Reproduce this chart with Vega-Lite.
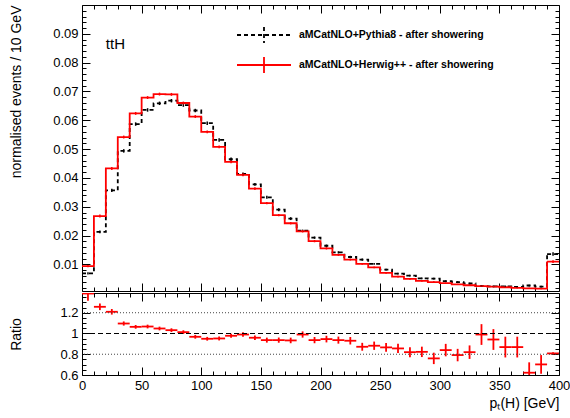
{
  "$schema": "https://vega.github.io/schema/vega-lite/v6.json",
  "background": "white",
  "padding": {"left": 8, "top": 4, "right": 2, "bottom": 4},
  "spacing": 0,
  "config": {
    "font": "Liberation Sans",
    "view": {"stroke": "black", "strokeWidth": 1},
    "axis": {
      "labelFont": "Liberation Sans", "labelFontSize": 13, "labelColor": "black", "labelFlush": false,
      "titleFont": "Liberation Sans", "titleFontSize": 14, "titleFontWeight": "normal", "titleColor": "black",
      "domain": false, "grid": false, "tickColor": "black", "tickWidth": 1
    }
  },
  "datasets": {
    "h": [
      {"s": "aMCatNLO+Pythia8 - after showering", "lo": 0, "hi": 10, "v": 0.0069, "e": 0.0004},
      {"s": "aMCatNLO+Pythia8 - after showering", "lo": 10, "hi": 20, "v": 0.0213, "e": 0.0005},
      {"s": "aMCatNLO+Pythia8 - after showering", "lo": 20, "hi": 30, "v": 0.0357, "e": 0.0006},
      {"s": "aMCatNLO+Pythia8 - after showering", "lo": 30, "hi": 40, "v": 0.0494, "e": 0.0006},
      {"s": "aMCatNLO+Pythia8 - after showering", "lo": 40, "hi": 50, "v": 0.0587, "e": 0.0006},
      {"s": "aMCatNLO+Pythia8 - after showering", "lo": 50, "hi": 60, "v": 0.0636, "e": 0.0006},
      {"s": "aMCatNLO+Pythia8 - after showering", "lo": 60, "hi": 70, "v": 0.0659, "e": 0.0006},
      {"s": "aMCatNLO+Pythia8 - after showering", "lo": 70, "hi": 80, "v": 0.0668, "e": 0.0006},
      {"s": "aMCatNLO+Pythia8 - after showering", "lo": 80, "hi": 90, "v": 0.0653, "e": 0.0006},
      {"s": "aMCatNLO+Pythia8 - after showering", "lo": 90, "hi": 100, "v": 0.0634, "e": 0.0006},
      {"s": "aMCatNLO+Pythia8 - after showering", "lo": 100, "hi": 110, "v": 0.0590, "e": 0.0006},
      {"s": "aMCatNLO+Pythia8 - after showering", "lo": 110, "hi": 120, "v": 0.0532, "e": 0.0006},
      {"s": "aMCatNLO+Pythia8 - after showering", "lo": 120, "hi": 130, "v": 0.0465, "e": 0.0006},
      {"s": "aMCatNLO+Pythia8 - after showering", "lo": 130, "hi": 140, "v": 0.0414, "e": 0.0005},
      {"s": "aMCatNLO+Pythia8 - after showering", "lo": 140, "hi": 150, "v": 0.0378, "e": 0.0005},
      {"s": "aMCatNLO+Pythia8 - after showering", "lo": 150, "hi": 160, "v": 0.0333, "e": 0.0005},
      {"s": "aMCatNLO+Pythia8 - after showering", "lo": 160, "hi": 170, "v": 0.0290, "e": 0.0005},
      {"s": "aMCatNLO+Pythia8 - after showering", "lo": 170, "hi": 180, "v": 0.0259, "e": 0.0005},
      {"s": "aMCatNLO+Pythia8 - after showering", "lo": 180, "hi": 190, "v": 0.0217, "e": 0.0004},
      {"s": "aMCatNLO+Pythia8 - after showering", "lo": 190, "hi": 200, "v": 0.0193, "e": 0.0004},
      {"s": "aMCatNLO+Pythia8 - after showering", "lo": 200, "hi": 210, "v": 0.0165, "e": 0.0004},
      {"s": "aMCatNLO+Pythia8 - after showering", "lo": 210, "hi": 220, "v": 0.0142, "e": 0.0004},
      {"s": "aMCatNLO+Pythia8 - after showering", "lo": 220, "hi": 230, "v": 0.0126, "e": 0.0004},
      {"s": "aMCatNLO+Pythia8 - after showering", "lo": 230, "hi": 240, "v": 0.0117, "e": 0.0004},
      {"s": "aMCatNLO+Pythia8 - after showering", "lo": 240, "hi": 250, "v": 0.0102, "e": 0.0003},
      {"s": "aMCatNLO+Pythia8 - after showering", "lo": 250, "hi": 260, "v": 0.0082, "e": 0.0003},
      {"s": "aMCatNLO+Pythia8 - after showering", "lo": 260, "hi": 270, "v": 0.0068, "e": 0.0003},
      {"s": "aMCatNLO+Pythia8 - after showering", "lo": 270, "hi": 280, "v": 0.0061, "e": 0.0003},
      {"s": "aMCatNLO+Pythia8 - after showering", "lo": 280, "hi": 290, "v": 0.0052, "e": 0.0003},
      {"s": "aMCatNLO+Pythia8 - after showering", "lo": 290, "hi": 300, "v": 0.0051, "e": 0.0003},
      {"s": "aMCatNLO+Pythia8 - after showering", "lo": 300, "hi": 310, "v": 0.0042, "e": 0.0003},
      {"s": "aMCatNLO+Pythia8 - after showering", "lo": 310, "hi": 320, "v": 0.0039, "e": 0.0003},
      {"s": "aMCatNLO+Pythia8 - after showering", "lo": 320, "hi": 330, "v": 0.0034, "e": 0.0003},
      {"s": "aMCatNLO+Pythia8 - after showering", "lo": 330, "hi": 340, "v": 0.0025, "e": 0.0003},
      {"s": "aMCatNLO+Pythia8 - after showering", "lo": 340, "hi": 350, "v": 0.0024, "e": 0.0003},
      {"s": "aMCatNLO+Pythia8 - after showering", "lo": 350, "hi": 360, "v": 0.0024, "e": 0.0003},
      {"s": "aMCatNLO+Pythia8 - after showering", "lo": 360, "hi": 370, "v": 0.0022, "e": 0.0003},
      {"s": "aMCatNLO+Pythia8 - after showering", "lo": 370, "hi": 380, "v": 0.0027, "e": 0.0003},
      {"s": "aMCatNLO+Pythia8 - after showering", "lo": 380, "hi": 390, "v": 0.0023, "e": 0.0003},
      {"s": "aMCatNLO+Pythia8 - after showering", "lo": 390, "hi": 400, "v": 0.0136, "e": 0.0006},
      {"s": "aMCatNLO+Herwig++ - after showering", "lo": 0, "hi": 10, "v": 0.0094, "e": 0.0004},
      {"s": "aMCatNLO+Herwig++ - after showering", "lo": 10, "hi": 20, "v": 0.0268, "e": 0.0005},
      {"s": "aMCatNLO+Herwig++ - after showering", "lo": 20, "hi": 30, "v": 0.0433, "e": 0.0005},
      {"s": "aMCatNLO+Herwig++ - after showering", "lo": 30, "hi": 40, "v": 0.0542, "e": 0.0005},
      {"s": "aMCatNLO+Herwig++ - after showering", "lo": 40, "hi": 50, "v": 0.0624, "e": 0.0005},
      {"s": "aMCatNLO+Herwig++ - after showering", "lo": 50, "hi": 60, "v": 0.0679, "e": 0.0005},
      {"s": "aMCatNLO+Herwig++ - after showering", "lo": 60, "hi": 70, "v": 0.0691, "e": 0.0005},
      {"s": "aMCatNLO+Herwig++ - after showering", "lo": 70, "hi": 80, "v": 0.0690, "e": 0.0005},
      {"s": "aMCatNLO+Herwig++ - after showering", "lo": 80, "hi": 90, "v": 0.0660, "e": 0.0005},
      {"s": "aMCatNLO+Herwig++ - after showering", "lo": 90, "hi": 100, "v": 0.0613, "e": 0.0005},
      {"s": "aMCatNLO+Herwig++ - after showering", "lo": 100, "hi": 110, "v": 0.0560, "e": 0.0005},
      {"s": "aMCatNLO+Herwig++ - after showering", "lo": 110, "hi": 120, "v": 0.0508, "e": 0.0005},
      {"s": "aMCatNLO+Herwig++ - after showering", "lo": 120, "hi": 130, "v": 0.0456, "e": 0.0005},
      {"s": "aMCatNLO+Herwig++ - after showering", "lo": 130, "hi": 140, "v": 0.0411, "e": 0.0005},
      {"s": "aMCatNLO+Herwig++ - after showering", "lo": 140, "hi": 150, "v": 0.0363, "e": 0.0005},
      {"s": "aMCatNLO+Herwig++ - after showering", "lo": 150, "hi": 160, "v": 0.0313, "e": 0.0004},
      {"s": "aMCatNLO+Herwig++ - after showering", "lo": 160, "hi": 170, "v": 0.0271, "e": 0.0004},
      {"s": "aMCatNLO+Herwig++ - after showering", "lo": 170, "hi": 180, "v": 0.0243, "e": 0.0004},
      {"s": "aMCatNLO+Herwig++ - after showering", "lo": 180, "hi": 190, "v": 0.0215, "e": 0.0004},
      {"s": "aMCatNLO+Herwig++ - after showering", "lo": 190, "hi": 200, "v": 0.0181, "e": 0.0004},
      {"s": "aMCatNLO+Herwig++ - after showering", "lo": 200, "hi": 210, "v": 0.0156, "e": 0.0004},
      {"s": "aMCatNLO+Herwig++ - after showering", "lo": 210, "hi": 220, "v": 0.0133, "e": 0.0003},
      {"s": "aMCatNLO+Herwig++ - after showering", "lo": 220, "hi": 230, "v": 0.0117, "e": 0.0003},
      {"s": "aMCatNLO+Herwig++ - after showering", "lo": 230, "hi": 240, "v": 0.0102, "e": 0.0003},
      {"s": "aMCatNLO+Herwig++ - after showering", "lo": 240, "hi": 250, "v": 0.0090, "e": 0.0003},
      {"s": "aMCatNLO+Herwig++ - after showering", "lo": 250, "hi": 260, "v": 0.0071, "e": 0.0003},
      {"s": "aMCatNLO+Herwig++ - after showering", "lo": 260, "hi": 270, "v": 0.0058, "e": 0.0003},
      {"s": "aMCatNLO+Herwig++ - after showering", "lo": 270, "hi": 280, "v": 0.0050, "e": 0.0003},
      {"s": "aMCatNLO+Herwig++ - after showering", "lo": 280, "hi": 290, "v": 0.0043, "e": 0.0003},
      {"s": "aMCatNLO+Herwig++ - after showering", "lo": 290, "hi": 300, "v": 0.0039, "e": 0.0003},
      {"s": "aMCatNLO+Herwig++ - after showering", "lo": 300, "hi": 310, "v": 0.0035, "e": 0.0002},
      {"s": "aMCatNLO+Herwig++ - after showering", "lo": 310, "hi": 320, "v": 0.0031, "e": 0.0002},
      {"s": "aMCatNLO+Herwig++ - after showering", "lo": 320, "hi": 330, "v": 0.0028, "e": 0.0002},
      {"s": "aMCatNLO+Herwig++ - after showering", "lo": 330, "hi": 340, "v": 0.0025, "e": 0.0002},
      {"s": "aMCatNLO+Herwig++ - after showering", "lo": 340, "hi": 350, "v": 0.0023, "e": 0.0002},
      {"s": "aMCatNLO+Herwig++ - after showering", "lo": 350, "hi": 360, "v": 0.0021, "e": 0.0002},
      {"s": "aMCatNLO+Herwig++ - after showering", "lo": 360, "hi": 370, "v": 0.0019, "e": 0.0002},
      {"s": "aMCatNLO+Herwig++ - after showering", "lo": 370, "hi": 380, "v": 0.0017, "e": 0.0002},
      {"s": "aMCatNLO+Herwig++ - after showering", "lo": 380, "hi": 390, "v": 0.0016, "e": 0.0002},
      {"s": "aMCatNLO+Herwig++ - after showering", "lo": 390, "hi": 400, "v": 0.0110, "e": 0.0005}
    ],
    "r": [
      {"lo": 0, "hi": 10, "r": 1.385, "e": 0.07},
      {"lo": 10, "hi": 20, "r": 1.257, "e": 0.032},
      {"lo": 20, "hi": 30, "r": 1.209, "e": 0.027},
      {"lo": 30, "hi": 40, "r": 1.096, "e": 0.02},
      {"lo": 40, "hi": 50, "r": 1.064, "e": 0.018},
      {"lo": 50, "hi": 60, "r": 1.067, "e": 0.018},
      {"lo": 60, "hi": 70, "r": 1.048, "e": 0.018},
      {"lo": 70, "hi": 80, "r": 1.032, "e": 0.018},
      {"lo": 80, "hi": 90, "r": 1.013, "e": 0.018},
      {"lo": 90, "hi": 100, "r": 0.968, "e": 0.018},
      {"lo": 100, "hi": 110, "r": 0.949, "e": 0.018},
      {"lo": 110, "hi": 120, "r": 0.952, "e": 0.019},
      {"lo": 120, "hi": 130, "r": 0.978, "e": 0.02},
      {"lo": 130, "hi": 140, "r": 0.99, "e": 0.021},
      {"lo": 140, "hi": 150, "r": 0.959, "e": 0.022},
      {"lo": 150, "hi": 160, "r": 0.936, "e": 0.024},
      {"lo": 160, "hi": 170, "r": 0.936, "e": 0.025},
      {"lo": 170, "hi": 180, "r": 0.933, "e": 0.027},
      {"lo": 180, "hi": 190, "r": 0.99, "e": 0.03},
      {"lo": 190, "hi": 200, "r": 0.936, "e": 0.03},
      {"lo": 200, "hi": 210, "r": 0.946, "e": 0.032},
      {"lo": 210, "hi": 220, "r": 0.936, "e": 0.034},
      {"lo": 220, "hi": 230, "r": 0.93, "e": 0.036},
      {"lo": 230, "hi": 240, "r": 0.872, "e": 0.038},
      {"lo": 240, "hi": 250, "r": 0.882, "e": 0.04},
      {"lo": 250, "hi": 260, "r": 0.866, "e": 0.042},
      {"lo": 260, "hi": 270, "r": 0.856, "e": 0.045},
      {"lo": 270, "hi": 280, "r": 0.82, "e": 0.048},
      {"lo": 280, "hi": 290, "r": 0.823, "e": 0.05},
      {"lo": 290, "hi": 300, "r": 0.76, "e": 0.055},
      {"lo": 300, "hi": 310, "r": 0.84, "e": 0.06},
      {"lo": 310, "hi": 320, "r": 0.792, "e": 0.06},
      {"lo": 320, "hi": 330, "r": 0.82, "e": 0.065},
      {"lo": 330, "hi": 340, "r": 0.99, "e": 0.1},
      {"lo": 340, "hi": 350, "r": 0.942, "e": 0.1},
      {"lo": 350, "hi": 360, "r": 0.869, "e": 0.1},
      {"lo": 360, "hi": 370, "r": 0.869, "e": 0.1},
      {"lo": 370, "hi": 380, "r": 0.622, "e": 0.1},
      {"lo": 380, "hi": 390, "r": 0.702, "e": 0.09},
      {"lo": 390, "hi": 400, "r": 0.808, "e": 0.01}
    ],
    "refs": [{"g": 0.8}, {"g": 1.2}],
    "label": [{"t": "ttH"}]
  },
  "vconcat": [
    {
      "width": 477,
      "height": 286,
      "data": {"name": "h"},
      "transform": [
        {"calculate": "(datum.lo+datum.hi)/2", "as": "c"},
        {"calculate": "datum.v-datum.e", "as": "vl"},
        {"calculate": "datum.v+datum.e", "as": "vh"}
      ],
      "resolve": {"axis": {"x": "independent", "y": "independent"}},
      "layer": [
        {
          "mark": {"type": "line", "interpolate": "step-after", "strokeWidth": 1.8, "clip": true},
          "encoding": {
            "x": {
              "field": "lo", "type": "quantitative",
              "scale": {"domain": [0, 400], "nice": false, "zero": false},
              "axis": {
                "orient": "bottom", "title": null, "labels": false,
                "values": [0,10,20,30,40,50,60,70,80,90,100,110,120,130,140,150,160,170,180,190,200,210,220,230,240,250,260,270,280,290,300,310,320,330,340,350,360,370,380,390,400],
                "tickSize": {"condition": {"test": "datum.value % 50 == 0", "value": -8}, "value": -4}
              }
            },
            "y": {
              "field": "v", "type": "quantitative",
              "scale": {"domain": [0.0008, 0.1], "nice": false, "zero": false},
              "axis": {
                "orient": "left", "title": "normalised events / 10 GeV",
                "titleAnchor": "end", "titleX": -66, "titleBaseline": "middle",
                "values": [0.002,0.004,0.006,0.008,0.01,0.012,0.014,0.016,0.018,0.02,0.022,0.024,0.026,0.028,0.03,0.032,0.034,0.036,0.038,0.04,0.042,0.044,0.046,0.048,0.05,0.052,0.054,0.056,0.058,0.06,0.062,0.064,0.066,0.068,0.07,0.072,0.074,0.076,0.078,0.08,0.082,0.084,0.086,0.088,0.09,0.092,0.094,0.096,0.098],
                "labelExpr": "round(datum.value*1000) % 10 == 0 ? format(datum.value, '.2f') : ''",
                "tickSize": {"condition": {"test": "round(datum.value*1000) % 10 == 0", "value": -8}, "value": -4},
                "labelPadding": 12
              }
            },
            "color": {
              "field": "s", "type": "nominal",
              "scale": {"domain": ["aMCatNLO+Pythia8 - after showering", "aMCatNLO+Herwig++ - after showering"], "range": ["black", "#ff0000"]},
              "legend": {
                "orient": "none", "legendX": 171, "legendY": 19, "title": null,
                "symbolType": "M-2.7,0H2.7M0,-0.8V0.8", "symbolSize": 400, "symbolStrokeWidth": 1.8,
                "labelFont": "Liberation Sans", "labelFontSize": 10.5, "labelFontWeight": "bold", "labelColor": "black",
                "labelLimit": 0, "rowPadding": 6, "labelOffset": 24
              }
            },
            "strokeDash": {
              "field": "s", "type": "nominal",
              "scale": {"domain": ["aMCatNLO+Pythia8 - after showering", "aMCatNLO+Herwig++ - after showering"], "range": [[4, 3], [1, 0]]}
            }
          }
        },
        {
          "mark": {"type": "rule", "strokeWidth": 1.5},
          "encoding": {
            "x": {
              "field": "c", "type": "quantitative",
              "axis": {
                "orient": "top", "title": null, "labels": false,
                "values": [0,10,20,30,40,50,60,70,80,90,100,110,120,130,140,150,160,170,180,190,200,210,220,230,240,250,260,270,280,290,300,310,320,330,340,350,360,370,380,390,400],
                "tickSize": {"condition": {"test": "datum.value % 50 == 0", "value": -8}, "value": -4}
              }
            },
            "y": {
              "field": "vl", "type": "quantitative",
              "axis": {
                "orient": "right", "title": null, "labels": false,
                "values": [0.002,0.004,0.006,0.008,0.01,0.012,0.014,0.016,0.018,0.02,0.022,0.024,0.026,0.028,0.03,0.032,0.034,0.036,0.038,0.04,0.042,0.044,0.046,0.048,0.05,0.052,0.054,0.056,0.058,0.06,0.062,0.064,0.066,0.068,0.07,0.072,0.074,0.076,0.078,0.08,0.082,0.084,0.086,0.088,0.09,0.092,0.094,0.096,0.098],
                "tickSize": {"condition": {"test": "round(datum.value*1000) % 10 == 0", "value": -8}, "value": -4}
              }
            },
            "y2": {"field": "vh"},
            "color": {"field": "s", "type": "nominal"}
          }
        },
        {
          "transform": [{"filter": "datum.lo == 390"}],
          "mark": {"type": "rule", "strokeWidth": 1.8},
          "encoding": {
            "x": {"field": "lo", "type": "quantitative", "axis": null},
            "x2": {"field": "hi"},
            "y": {"field": "v", "type": "quantitative", "axis": null},
            "color": {"field": "s", "type": "nominal"},
            "strokeDash": {"field": "s", "type": "nominal"}
          }
        },
        {
          "data": {"name": "label"},
          "mark": {"type": "text", "align": "left", "baseline": "middle", "fontSize": 15, "font": "Liberation Sans", "color": "black"},
          "encoding": {
            "x": {"datum": 20, "type": "quantitative", "axis": null},
            "y": {"datum": 0.0863, "type": "quantitative", "axis": null},
            "text": {"field": "t"}
          }
        }
      ]
    },
    {
      "width": 477,
      "height": 82,
      "data": {"name": "r"},
      "transform": [
        {"calculate": "(datum.lo+datum.hi)/2", "as": "c"},
        {"calculate": "datum.r-datum.e", "as": "rl"},
        {"calculate": "datum.r+datum.e", "as": "rh"}
      ],
      "resolve": {"axis": {"x": "independent", "y": "independent"}},
      "layer": [
        {
          "mark": {"type": "rule", "color": "#ff0000", "strokeWidth": 1.8, "clip": true},
          "encoding": {
            "x": {
              "field": "lo", "type": "quantitative",
              "scale": {"domain": [0, 400], "nice": false, "zero": false},
              "axis": {
                "orient": "bottom", "title": "pₜ(H) [GeV]", "titleAnchor": "end",
                "values": [0,10,20,30,40,50,60,70,80,90,100,110,120,130,140,150,160,170,180,190,200,210,220,230,240,250,260,270,280,290,300,310,320,330,340,350,360,370,380,390,400],
                "labelExpr": "datum.value % 50 == 0 ? datum.label : ''",
                "tickSize": {"condition": {"test": "datum.value % 50 == 0", "value": -8}, "value": -4},
                "labelPadding": 12, "titlePadding": 4
              }
            },
            "x2": {"field": "hi"},
            "y": {
              "field": "r", "type": "quantitative",
              "scale": {"domain": [0.6, 1.39], "nice": false, "zero": false},
              "axis": {
                "orient": "left", "title": "Ratio", "titleX": -66, "titleBaseline": "middle",
                "values": [0.6,0.65,0.7,0.75,0.8,0.85,0.9,0.95,1,1.05,1.1,1.15,1.2,1.25,1.3,1.35],
                "labelExpr": "round(datum.value*100) % 20 == 0 ? (datum.value == 1 ? '1' : format(datum.value, '.1f')) : ''",
                "tickSize": {"condition": {"test": "round(datum.value*100) % 20 == 0", "value": -8}, "value": -4},
                "labelPadding": 12
              }
            }
          }
        },
        {
          "mark": {"type": "rule", "color": "#ff0000", "strokeWidth": 1.8, "clip": true},
          "encoding": {
            "x": {
              "field": "c", "type": "quantitative",
              "axis": {
                "orient": "top", "title": null, "labels": false,
                "values": [0,10,20,30,40,50,60,70,80,90,100,110,120,130,140,150,160,170,180,190,200,210,220,230,240,250,260,270,280,290,300,310,320,330,340,350,360,370,380,390,400],
                "tickSize": {"condition": {"test": "datum.value % 50 == 0", "value": -8}, "value": -4}
              }
            },
            "y": {
              "field": "rl", "type": "quantitative",
              "axis": {
                "orient": "right", "title": null, "labels": false,
                "values": [0.6,0.65,0.7,0.75,0.8,0.85,0.9,0.95,1,1.05,1.1,1.15,1.2,1.25,1.3,1.35],
                "tickSize": {"condition": {"test": "round(datum.value*100) % 20 == 0", "value": -8}, "value": -4}
              }
            },
            "y2": {"field": "rh"}
          }
        },
        {
          "mark": {"type": "rule", "color": "black", "strokeWidth": 1.2, "strokeDash": [5, 3]},
          "encoding": {"y": {"datum": 1, "type": "quantitative", "axis": null}}
        },
        {
          "data": {"name": "refs"},
          "mark": {"type": "rule", "color": "#444", "strokeWidth": 1, "strokeDash": [1, 2]},
          "encoding": {"y": {"field": "g", "type": "quantitative", "axis": null}}
        }
      ]
    }
  ]
}
